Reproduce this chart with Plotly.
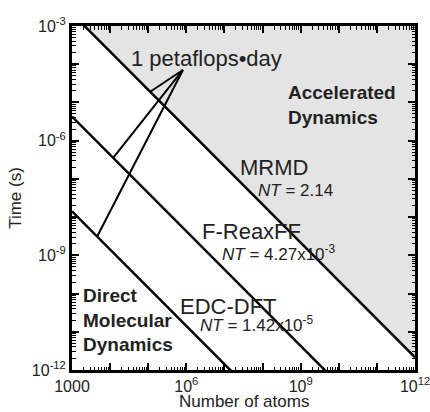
import plotly.graph_objects as go

# ---- data ----
methods = ["MRMD", "F-ReaxFF", "EDC-DFT"]
nt_values = [2.14, 4.27e-3, 1.42e-5]
nt_labels = ["2.14", "4.27x10<sup>-3</sup>", "1.42x10<sup>-5</sup>"]
x_range = [1e3, 1e12]
y_range = [1e-12, 1e-3]
petaflop_day_atoms = [10**5.05, 10**4.08, 10**3.66]   # where pointers touch each line
petaflop_apex = [10**5.91, 10**-4.15]
x_tick_exps = [3, 4, 5, 6, 7, 8, 9, 10, 11, 12]
x_tick_text = ["1000", "", "", "10<sup>6</sup>", "", "", "10<sup>9</sup>", "", "", "10<sup>12</sup>"]
y_tick_exps = [-12, -11, -10, -9, -8, -7, -6, -5, -4, -3]
y_tick_text = ["10<sup>-12</sup>", "", "", "10<sup>-9</sup>", "", "", "10<sup>-6</sup>", "", "", "10<sup>-3</sup>"]
x_title = "Number of atoms"
y_title = "Time (s)"

FONT = "Liberation Sans, Arial, Helvetica, sans-serif"
TXT = "#222222"

fig = go.Figure()

# shaded "accelerated dynamics" region above the top line
top_nt = nt_values[0]
fig.add_trace(go.Scatter(
    x=[top_nt / y_range[1], x_range[1], x_range[1], top_nt / y_range[1]],
    y=[y_range[1], top_nt / x_range[1], y_range[1], y_range[1]],
    fill="toself", fillcolor="#e4e4e4", line=dict(width=0),
    mode="lines", hoverinfo="skip", showlegend=False))

# constant NT lines
for nt in nt_values:
    fig.add_trace(go.Scatter(
        x=x_range, y=[nt / x_range[0], nt / x_range[1]],
        mode="lines", line=dict(color="black", width=2.5),
        showlegend=False, hoverinfo="skip"))

# petaflops-day pointers
for nt, n in zip(nt_values, petaflop_day_atoms):
    fig.add_trace(go.Scatter(
        x=[petaflop_apex[0], n], y=[petaflop_apex[1], nt / n],
        mode="lines", line=dict(color="black", width=2),
        showlegend=False, hoverinfo="skip"))

# layout geometry (pixels)
L, R, T, B = 72, 415, 26, 370
W, H = 430, 412


def px(xp):
    return (xp - L) / (R - L)


def py(yp):
    return (B - yp) / (B - T)


ann = []


def add(text, xp, yp, size, bold=False, xanchor="left", align="left"):
    ann.append(dict(text=("<b>%s</b>" % text) if bold else text,
                    x=px(xp), y=py(yp), xref="paper", yref="paper",
                    xanchor=xanchor, yanchor="middle", align=align,
                    showarrow=False,
                    font=dict(family=FONT, size=size, color=TXT)))


add("1 petaflops\u2022day", 206, 58, 22, xanchor="center")
add("Accelerated<br>Dynamics", 286, 105, 19, bold=True)
add("Direct<br>Molecular<br>Dynamics", 81, 320, 19, bold=True)
# line labels
label_pos = [(238, 168, 256, 190), (200, 232, 220, 253), (178, 306, 198, 324)]
for m, lab, (x1, y1, x2, y2) in zip(methods, nt_labels, label_pos):
    add(m, x1, y1, 22)
    add("<i>NT</i> = " + lab, x2, y2, 17)
# x axis title
add(x_title, (L + R) / 2, 401, 17, xanchor="center")

axis_common = dict(
    type="log", showline=True, linewidth=3, linecolor="black", mirror="ticks",
    ticks="inside", ticklen=7, tickwidth=1.5, tickcolor="black",
    showgrid=False, zeroline=False, automargin=False,
    ticklabeloverflow="allow",
    tickfont=dict(family=FONT, size=16, color=TXT),
)

fig.update_layout(
    width=W, height=H,
    margin=dict(l=L, r=W - R, t=T, b=H - B, pad=0),
    paper_bgcolor="white", plot_bgcolor="white",
    annotations=ann,
    xaxis=dict(axis_common,
               range=[3, 12],
               tickmode="array", tickvals=[10**e for e in x_tick_exps],
               ticktext=x_tick_text,
               minor=dict(ticks="inside", ticklen=3.5, tickwidth=1, tickcolor="black",
                          tickmode="array",
                          tickvals=[d * 10**e for e in x_tick_exps[:-1] for d in range(2, 10)])),
    yaxis=dict(axis_common,
               range=[-12, -3],
               tickmode="array", tickvals=[10**e for e in y_tick_exps],
               ticktext=y_tick_text,
               minor=dict(ticks="inside", ticklen=3.5, tickwidth=1, tickcolor="black",
                          tickmode="array",
                          tickvals=[d * 10**e for e in y_tick_exps[:-1] for d in range(2, 10)]),
               title=dict(text=y_title, standoff=6,
                          font=dict(family=FONT, size=17, color=TXT))),
)

# make the figure fill the 430x412 window exactly (no body margin / scrollbars)
page_fix = ("document.documentElement.style.overflow='hidden';"
            "document.body.style.margin='0';document.body.style.overflow='hidden';")
fig.write_html("out.html", post_script=page_fix, config={"displayModeBar": False})
